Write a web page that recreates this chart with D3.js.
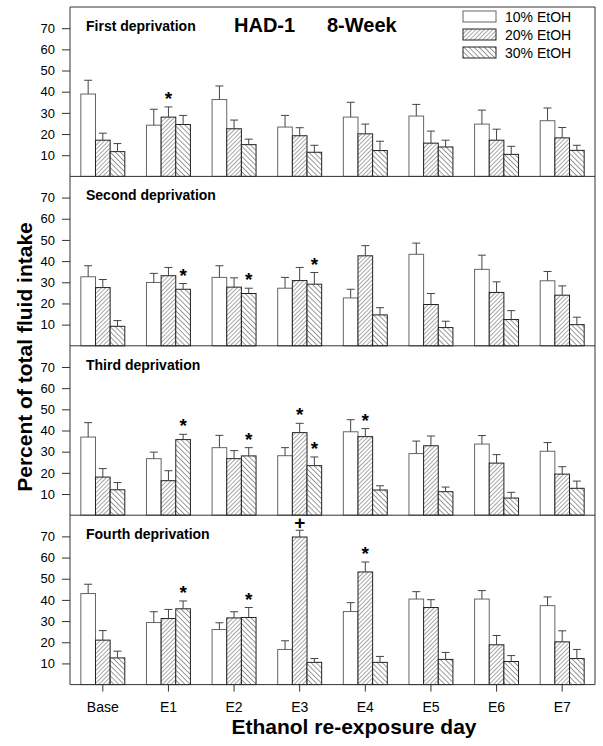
<!DOCTYPE html>
<html>
<head>
<meta charset="utf-8">
<script src="https://cdn.jsdelivr.net/npm/d3@7"></script>
<style>
  body { margin: 0; background: #fff; }
  text { font-family: Arial, "Liberation Sans", sans-serif; fill: #000; }
</style>
</head>
<body>
<svg id="chart" width="603" height="746"></svg>
<script>
// categories
var days = ["Base", "E1", "E2", "E3", "E4", "E5", "E6", "E7"];
var series = ["10% EtOH", "20% EtOH", "30% EtOH"];
var panelNames = ["First deprivation", "Second deprivation", "Third deprivation", "Fourth deprivation"];
var yTicks = [10, 20, 30, 40, 50, 60, 70];

// means per day: [10%, 20%, 30%]
var firstMean  = [[38.9,17.1,11.7],[24.2,28.0,24.5],[36.3,22.5,15.0],[23.3,19.2,11.4],[28.0,20.1,12.2],[28.5,15.7,13.9],[24.7,17.1,10.4],[26.3,18.2,12.3]];
var firstSem   = [[6.5,3.3,3.8],[7.5,4.8,4.3],[6.4,4.1,2.6],[5.5,3.8,3.3],[7.0,4.6,4.4],[5.5,5.7,3.2],[6.6,5.2,3.8],[6.0,4.9,2.4]];
var secondMean = [[32.6,27.5,9.2],[29.9,33.1,26.7],[32.3,27.7,24.7],[27.2,30.8,29.1],[22.6,42.5,14.6],[43.2,19.5,8.6],[36.1,25.2,12.4],[30.7,23.9,10.0]];
var secondSem  = [[5.2,3.8,2.7],[4.3,3.9,2.7],[5.5,4.4,2.5],[5.1,6.2,5.5],[4.1,4.8,3.4],[5.3,5.2,3.0],[6.7,5.0,4.2],[4.4,4.4,3.5]];
var thirdMean  = [[36.9,18.0,12.0],[26.7,16.3,35.7],[31.9,26.7,28.0],[28.1,39.0,23.4],[39.4,37.1,11.9],[29.1,32.8,11.1],[33.6,24.6,8.1],[30.2,19.4,12.7]];
var thirdSem   = [[6.8,4.0,3.4],[3.1,4.7,2.5],[5.8,3.8,3.9],[3.8,4.4,4.1],[5.7,3.8,2.0],[5.9,4.6,2.2],[4.0,4.0,2.7],[4.1,3.5,3.4]];
var fourthMean = [[43.0,21.0,12.6],[29.3,31.2,35.8],[26.0,31.5,31.7],[16.6,69.7,10.5],[34.5,53.2,10.5],[40.4,36.4,11.9],[40.4,18.8,10.9],[37.3,20.2,12.3]];
var fourthSem  = [[4.4,4.5,3.2],[5.1,4.3,3.7],[3.2,2.9,4.7],[4.1,3.2,1.8],[4.2,4.7,2.8],[3.5,3.7,3.3],[4.0,4.4,2.8],[4.1,5.2,4.3]];

var means = [firstMean, secondMean, thirdMean, fourthMean];
var sems = [firstSem, secondSem, thirdSem, fourthSem];

// significance markers
var marks = [
    {panel: 0, day: "E1", s: 1, sym: "*"},
    {panel: 1, day: "E1", s: 2, sym: "*"},
    {panel: 1, day: "E2", s: 2, sym: "*"},
    {panel: 1, day: "E3", s: 2, sym: "*"},
    {panel: 2, day: "E1", s: 2, sym: "*"},
    {panel: 2, day: "E2", s: 2, sym: "*"},
    {panel: 2, day: "E3", s: 1, sym: "*"},
    {panel: 2, day: "E3", s: 2, sym: "*"},
    {panel: 2, day: "E4", s: 1, sym: "*"},
    {panel: 3, day: "E1", s: 2, sym: "*"},
    {panel: 3, day: "E2", s: 2, sym: "*"},
    {panel: 3, day: "E3", s: 1, sym: "+"},
    {panel: 3, day: "E4", s: 1, sym: "*"}
];

var svg = d3.select("#chart");
var plotLeft = 70, plotRight = 595, plotTop = 7, panelH = 169.4;
var lineCol = "#333";

var x0 = d3.scaleBand().domain(days).range([plotLeft, plotRight])
    .paddingInner(0.33).paddingOuter(0.165);
var x1 = d3.scaleBand().domain(d3.range(series.length)).range([0, x0.bandwidth()]);
var y = d3.scaleLinear().domain([0, 80]).range([panelH, 0]);

// hatch patterns
var defs = svg.append("defs");
function hatch(id, angle, gap, w) {
    var p = defs.append("pattern")
        .attr("id", id)
        .attr("patternUnits", "userSpaceOnUse")
        .attr("width", gap).attr("height", gap)
        .attr("patternTransform", "rotate(" + angle + ")");
    p.append("rect").attr("width", gap).attr("height", gap).attr("fill", "#fff");
    p.append("line").attr("x1", 0).attr("y1", 0).attr("x2", 0).attr("y2", gap)
        .attr("stroke", "#222").attr("stroke-width", w);
}
hatch("h20", 45, 3, 0.8);
hatch("h30", -45, 3.6, 0.9);
var fills = ["#fff", "url(#h20)", "url(#h30)"];
var strokes = ["#666", "#222", "#222"];

panelNames.forEach(function(name, p) {
    var g = svg.append("g").attr("transform", "translate(0," + (plotTop + p * panelH) + ")");

    //y axis
    var ax = g.append("g")
        .attr("transform", "translate(" + plotLeft + ",0)")
        .call(d3.axisLeft(y).tickValues(yTicks).tickSize(8).tickPadding(7));
    ax.select(".domain").remove();
    ax.selectAll("line").attr("stroke", lineCol);
    ax.selectAll("text").attr("font-size", 13).attr("fill", "#000")
        .style("font-family", "Arial, 'Liberation Sans', sans-serif");

    var rows = [];
    days.forEach(function(d, i) {
        series.forEach(function(s, j) {
            rows.push({day: d, s: j, v: means[p][i][j], e: sems[p][i][j]});
        });
    });

    g.selectAll("rect.bar")
        .data(rows)
        .enter()
        .append("rect")
        .attr("class", "bar")
        .attr("x", function(d) { return x0(d.day) + x1(d.s); })
        .attr("y", function(d) { return y(d.v); })
        .attr("width", x1.bandwidth())
        .attr("height", function(d) { return y(0) - y(d.v); })
        .attr("fill", function(d) { return fills[d.s]; })
        .attr("stroke", function(d) { return strokes[d.s]; })
        .attr("stroke-width", 1);

    //error bars, upper only
    var eb = g.selectAll("g.err")
        .data(rows)
        .enter()
        .append("g")
        .attr("class", "err")
        .attr("stroke", "#444")
        .attr("stroke-width", 1);
    eb.append("line")
        .attr("x1", function(d) { return x0(d.day) + x1(d.s) + x1.bandwidth() / 2; })
        .attr("x2", function(d) { return x0(d.day) + x1(d.s) + x1.bandwidth() / 2; })
        .attr("y1", function(d) { return y(d.v); })
        .attr("y2", function(d) { return y(d.v + d.e); });
    eb.append("line")
        .attr("x1", function(d) { return x0(d.day) + x1(d.s) + x1.bandwidth() / 2 - 4; })
        .attr("x2", function(d) { return x0(d.day) + x1(d.s) + x1.bandwidth() / 2 + 4; })
        .attr("y1", function(d) { return y(d.v + d.e); })
        .attr("y2", function(d) { return y(d.v + d.e); });

    // panel baseline
    g.append("line")
        .attr("x1", plotLeft).attr("x2", plotRight)
        .attr("y1", y(0)).attr("y2", y(0))
        .attr("stroke", lineCol);

    g.append("text")
        .attr("x", 86)
        .attr("y", 24)
        .attr("font-size", 14)
        .attr("font-weight", "bold")
        .text(name);

    // markers
    g.selectAll("text.mark")
        .data(marks.filter(function(m) { return m.panel === p; }))
        .enter()
        .append("text")
        .attr("class", "mark")
        .attr("x", function(m) { return x0(m.day) + x1(m.s) + x1.bandwidth() / 2; })
        .attr("y", function(m) {
            var i = days.indexOf(m.day);
            var t = y(means[p][i][m.s] + sems[p][i][m.s]);
            return m.sym === "+" ? t - 1 : t - 2;
        })
        .attr("text-anchor", "middle")
        .attr("font-size", 19)
        .attr("font-weight", "bold")
        .text(function(m) { return m.sym; });
});

var plotBottom = plotTop + panelH * panelNames.length;

// frame
svg.append("path")
    .attr("d", "M" + plotLeft + "," + plotBottom + "V" + plotTop + "H" + plotRight + "V" + plotBottom)
    .attr("fill", "none")
    .attr("stroke", lineCol);

// x axis on bottom panel
var xa = svg.append("g")
    .attr("transform", "translate(0," + plotBottom + ")")
    .call(d3.axisBottom(x0).tickSize(7).tickPadding(10));
xa.select(".domain").remove();
xa.selectAll("line").attr("stroke", lineCol);
xa.selectAll("text").attr("font-size", 14).attr("fill", "#000")
    .style("font-family", "Arial, 'Liberation Sans', sans-serif");

// titles
svg.append("text")
    .attr("x", 234).attr("y", 32)
    .attr("font-size", 20).attr("font-weight", "bold")
    .text("HAD-1");
svg.append("text")
    .attr("x", 327).attr("y", 32)
    .attr("font-size", 20).attr("font-weight", "bold")
    .text("8-Week");

svg.append("text")
    .attr("transform", "translate(32,357) rotate(-90)")
    .attr("text-anchor", "middle")
    .attr("font-size", 21).attr("font-weight", "bold")
    .text("Percent of total fluid intake");

svg.append("text")
    .attr("x", 354).attr("y", 734)
    .attr("text-anchor", "middle")
    .attr("font-size", 21).attr("font-weight", "bold")
    .text("Ethanol re-exposure day");

// legend
var lg = svg.append("g").attr("transform", "translate(463,11)");
var li = lg.selectAll("g")
    .data(series)
    .enter()
    .append("g")
    .attr("transform", function(d, i) { return "translate(0," + (i * 18) + ")"; });
li.append("rect")
    .attr("width", 33).attr("height", 11)
    .attr("fill", function(d, i) { return fills[i]; })
    .attr("stroke", function(d, i) { return strokes[i]; });
li.append("text")
    .attr("x", 42).attr("y", 11)
    .attr("font-size", 14)
    .text(function(d) { return d; });
</script>
</body>
</html>
